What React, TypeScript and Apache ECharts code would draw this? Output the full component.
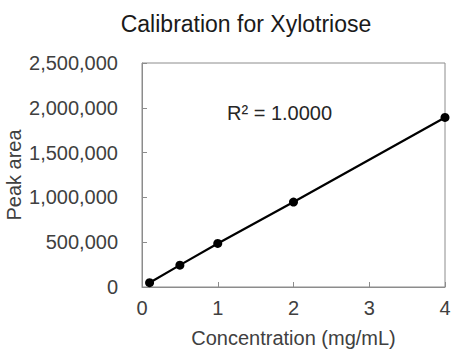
import React, { useEffect, useRef } from "react";
import * as echarts from "echarts";

const concentrations = [0.1, 0.5, 1, 2, 4];
const peakAreas = [48000, 244000, 486000, 948000, 1892000];
const titleText = "Calibration for Xylotriose";
const xAxisName = "Concentration (mg/mL)";
const yAxisName = "Peak area";
const r2Text = "R² = 1.0000";

export default function App() {
  const ref = useRef<HTMLDivElement>(null);
  useEffect(() => {
    if (!ref.current) return;
    const chart = echarts.init(ref.current, undefined, { renderer: "svg" });
    const font = "Liberation Sans, Arial, sans-serif";
    chart.setOption({
      animation: false,
      backgroundColor: "#ffffff",
      title: {
        text: titleText,
        left: 241,
        textAlign: "center",
        top: 7,
        textStyle: { fontFamily: font, fontSize: 23, fontWeight: "normal", color: "#1a1a1a" },
      },
      grid: {
        left: 142,
        right: 26,
        top: 63,
        bottom: 66,
        show: true,
        borderColor: "#8c8c8c",
        borderWidth: 1,
        containLabel: false,
        outerBoundsMode: "none",
      },
      xAxis: {
        type: "value",
        min: 0,
        max: 4,
        interval: 1,
        name: xAxisName,
        nameLocation: "middle",
        nameGap: 51,
        nameMoveOverlap: false,
        nameTextStyle: { fontFamily: font, fontSize: 20, color: "#404040", verticalAlign: "middle" },
        axisLine: { show: true, lineStyle: { color: "#8c8c8c", width: 1 } },
        axisTick: { show: true, inside: true, length: 5, lineStyle: { color: "#8c8c8c" } },
        axisLabel: { fontFamily: font, fontSize: 20, color: "#404040", margin: 11 },
        splitLine: { show: false },
      },
      yAxis: {
        type: "value",
        min: 0,
        max: 2500000,
        interval: 500000,
        name: yAxisName,
        nameLocation: "middle",
        nameGap: 128,
        nameMoveOverlap: false,
        nameRotate: 90,
        nameTextStyle: { fontFamily: font, fontSize: 20, color: "#404040", verticalAlign: "middle" },
        axisLine: { show: true, lineStyle: { color: "#8c8c8c", width: 1 } },
        axisTick: { show: true, inside: true, length: 5, lineStyle: { color: "#8c8c8c" } },
        axisLabel: {
          fontFamily: font,
          fontSize: 20,
          color: "#404040",
          margin: 24,
          formatter: (v: number) => v.toLocaleString("en-US"),
        },
        splitLine: { show: false },
      },
      graphic: [
        {
          type: "text",
          left: 227,
          top: 103,
          style: { text: r2Text, font: `20px ${font}`, fill: "#262626" },
        },
      ],
      series: [
        {
          type: "line",
          data: concentrations.map((c, i) => [c, peakAreas[i]]),
          symbol: "circle",
          symbolSize: 9,
          itemStyle: { color: "#000000" },
          lineStyle: { color: "#000000", width: 2.2 },
        },
      ],
    });
    return () => chart.dispose();
  }, []);
  return (
    <div
      ref={ref}
      style={{ position: "fixed", left: 0, top: 0, width: 471, height: 353 }}
    />
  );
}
